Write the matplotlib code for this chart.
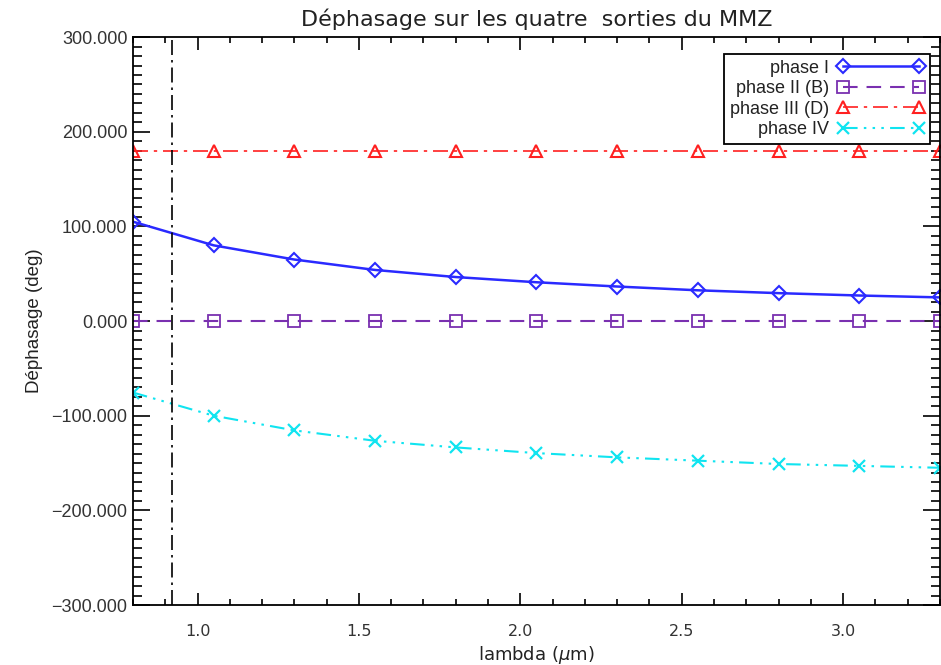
import numpy as np
import matplotlib
matplotlib.use("Agg")
import matplotlib.pyplot as plt
from matplotlib.ticker import MultipleLocator, FormatStrFormatter, FuncFormatter

# lambda in micrometres
lam = [0.80, 1.05, 1.30, 1.55, 1.80, 2.05, 2.30, 2.55, 2.80, 3.05, 3.30]
phase_1 = [105, 80, 65, 54, 46.5, 41, 36.5, 32.5, 29.5, 27, 25]
phase_2 = [0, 0, 0, 0, 0, 0, 0, 0, 0, 0, 0]
phase_3 = [180, 180, 180, 180, 180, 180, 180, 180, 180, 180, 180]
phase_4 = [-75.5, -100, -115.5, -126.5, -133.5, -139.5, -144, -147.5, -151, -153, -155]
labels = ["phase I", "phase II (B)", "phase III (D)", "phase IV"]
lam_cut = 0.92

fig = plt.figure(figsize=(9.41, 6.65), dpi=100)
ax = fig.add_axes([0.1413, 0.0902, 0.8576, 0.854])

ax.plot(lam, phase_1, color='#2a2aff', lw=1.8, marker='D', ms=7.5,
        mfc='none', mew=1.5, label=labels[0])
ax.plot(lam, phase_2, color='#7a30b0', lw=1.5, ls=(0, (7, 4.3)), marker='s', ms=8.5,
        mfc='none', mew=1.3, label=labels[1])
ax.plot(lam, phase_3, color='#ff2020', lw=1.2, ls=(0, (9, 3.5, 2, 3.5)), marker='^', ms=9,
        mfc='none', mew=1.5, label=labels[2])
ax.plot(lam, phase_4, color='#10e4f0', lw=1.5, ls=(0, (7, 3, 1.2, 3, 1.2, 3, 1.2, 3)),
        marker='x', ms=9, mew=1.6, label=labels[3])
ax.axvline(lam_cut, color='black', lw=1.2, ls=(0, (9, 3, 1.5, 3)))

ax.set_xlim(0.8, 3.3)
ax.set_ylim(-300, 300)
ax.xaxis.set_major_locator(MultipleLocator(0.5))
ax.xaxis.set_minor_locator(MultipleLocator(0.1))
ax.yaxis.set_major_locator(MultipleLocator(100))
ax.yaxis.set_minor_locator(MultipleLocator(10))
ax.xaxis.set_major_formatter(FormatStrFormatter('%.1f'))
ax.yaxis.set_major_formatter(FuncFormatter(lambda v, p: ('%.3f' % v).replace('-', '\u2212')))

for s in ax.spines.values():
    s.set_linewidth(1.3)
ax.tick_params(axis='x', which='both', direction='in', top=True, width=1.2)
ax.tick_params(axis='x', which='major', length=9, pad=14, labelsize=11.5, labelcolor='#333333')
ax.tick_params(axis='x', which='minor', length=4.5)
ax.tick_params(axis='y', which='both', direction='in', right=True, width=1.2)
ax.tick_params(axis='y', which='major', length=12.5, pad=4, labelsize=13, labelcolor='#333333')
ax.tick_params(axis='y', which='minor', length=6.5)
for t in ax.get_yticklabels():
    t.set_family('Liberation Sans')

ax.set_title("Déphasage sur les quatre  sorties du MMZ", fontsize=16, pad=8, color='#222222')
ax.set_xlabel(r"lambda ($\mu$m)", fontsize=13, labelpad=3, color='#222222')
ax.set_ylabel("Déphasage (deg)", fontsize=13.5, labelpad=6, color='#222222',
              family='Liberation Sans')

leg = ax.legend(loc='upper right', bbox_to_anchor=(0.9876, 0.970), borderaxespad=0,
                markerfirst=False, numpoints=2, handlelength=4.8, handletextpad=0.5,
                labelspacing=0.2, borderpad=0.3, fancybox=False, framealpha=1,
                edgecolor='black', prop={'family': 'Liberation Sans', 'size': 13})
leg.get_frame().set_linewidth(1.3)
for t in leg.get_texts():
    t.set_ha('right')
    t.set_color('#222222')
leg._legend_box.align = 'right'

fig.savefig('out.png', dpi=100)
